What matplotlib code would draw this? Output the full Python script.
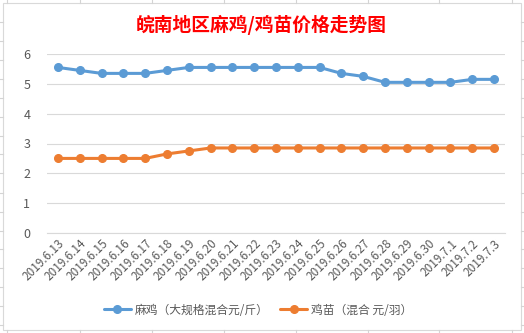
import matplotlib
matplotlib.use("Agg")
import matplotlib.pyplot as plt
from matplotlib.lines import Line2D
from matplotlib.patches import Rectangle

plt.rcParams['font.family'] = ['Noto Sans CJK SC', 'DejaVu Sans']

dates = ["2019.6.13", "2019.6.14", "2019.6.15", "2019.6.16", "2019.6.17", "2019.6.18",
         "2019.6.19", "2019.6.20", "2019.6.21", "2019.6.22", "2019.6.23", "2019.6.24",
         "2019.6.25", "2019.6.26", "2019.6.27", "2019.6.28", "2019.6.29", "2019.6.30",
         "2019.7.1", "2019.7.2", "2019.7.3"]
maji = [5.55, 5.45, 5.35, 5.35, 5.35, 5.45, 5.55, 5.55, 5.55, 5.55, 5.55, 5.55,
        5.55, 5.35, 5.25, 5.05, 5.05, 5.05, 5.05, 5.15, 5.15]
jimiao = [2.5, 2.5, 2.5, 2.5, 2.5, 2.65, 2.75, 2.85, 2.85, 2.85, 2.85, 2.85,
          2.85, 2.85, 2.85, 2.85, 2.85, 2.85, 2.85, 2.85, 2.85]
series_names = ["麻鸡（大规格混合元/斤）", "鸡苗（混合 元/羽）"]
title = "皖南地区麻鸡/鸡苗价格走势图"
yticks = [0, 1, 2, 3, 4, 5, 6]

W, H = 524, 333
fig = plt.figure(figsize=(W / 100, H / 100), dpi=100)
fig.patch.set_facecolor("white")

# spreadsheet cell lines behind the chart
cell = "#D4D4D4"
for yy in [21.7, 40.7, 60, 79, 97.7, 116.7, 135.7, 154.3, 173.3, 192.7, 211.7,
           230.7, 249.3, 268.3, 287.3, 306, 325]:
    fig.add_artist(Line2D([0, 3 / W], [1 - yy / H] * 2, color=cell, lw=0.8))
    fig.add_artist(Line2D([521 / W, 1], [1 - yy / H] * 2, color=cell, lw=0.8))
for xx in [7, 80, 152, 224, 296, 368, 439, 512]:
    fig.add_artist(Line2D([xx / W] * 2, [1, 1 - 3 / H], color=cell, lw=0.8))
    fig.add_artist(Line2D([xx / W] * 2, [0, 3 / H], color=cell, lw=0.8))
# chart area
fig.add_artist(Rectangle((3 / W, 3 / H), 518 / W, 327 / H, transform=fig.transFigure,
                         facecolor="white", edgecolor="#D9D9D9", lw=0.8, zorder=0))

ax = fig.add_axes([47 / W, 1 - 233 / H, 458 / W, 179 / H])
ax.set_facecolor("none")
x = list(range(len(dates)))
ax.plot(x, maji, color="#5B9BD5", lw=2.2, marker="o", ms=5.5, label=series_names[0],
        solid_capstyle="round", zorder=3)
ax.plot(x, jimiao, color="#ED7D31", lw=2.2, marker="o", ms=5.5, label=series_names[1],
        solid_capstyle="round", zorder=3)

ax.set_xlim(-0.5, len(dates) - 0.5)
ax.set_ylim(0, 6)
ax.set_yticks(yticks)
ax.set_yticklabels([str(v) for v in yticks])
ax.set_xticks(x)
ax.set_xticklabels(dates, rotation=45, ha="right", rotation_mode="anchor")
ax.grid(axis="y", color="#D9D9D9", lw=0.8)
ax.set_axisbelow(True)
for s in ["top", "right", "left"]:
    ax.spines[s].set_visible(False)
ax.spines["bottom"].set_color("#D9D9D9")
ax.spines["bottom"].set_linewidth(0.8)
ax.tick_params(axis="both", length=0, colors="#595959")
ax.tick_params(axis="y", labelsize=9, pad=12)
ax.tick_params(axis="x", labelsize=8.5, pad=3)

fig.text(261 / W, 1 - 25 / H, title, color="#FF0000", fontsize=13.5, fontweight="bold",
         ha="center", va="center")

leg = fig.legend(loc="center", bbox_to_anchor=(258 / W, 1 - 310 / H), ncol=2, frameon=False,
                 fontsize=8.5, handlelength=2.3, columnspacing=1.0, handletextpad=0.3,
                 labelcolor="#595959")

fig.savefig("out.png", dpi=100)
